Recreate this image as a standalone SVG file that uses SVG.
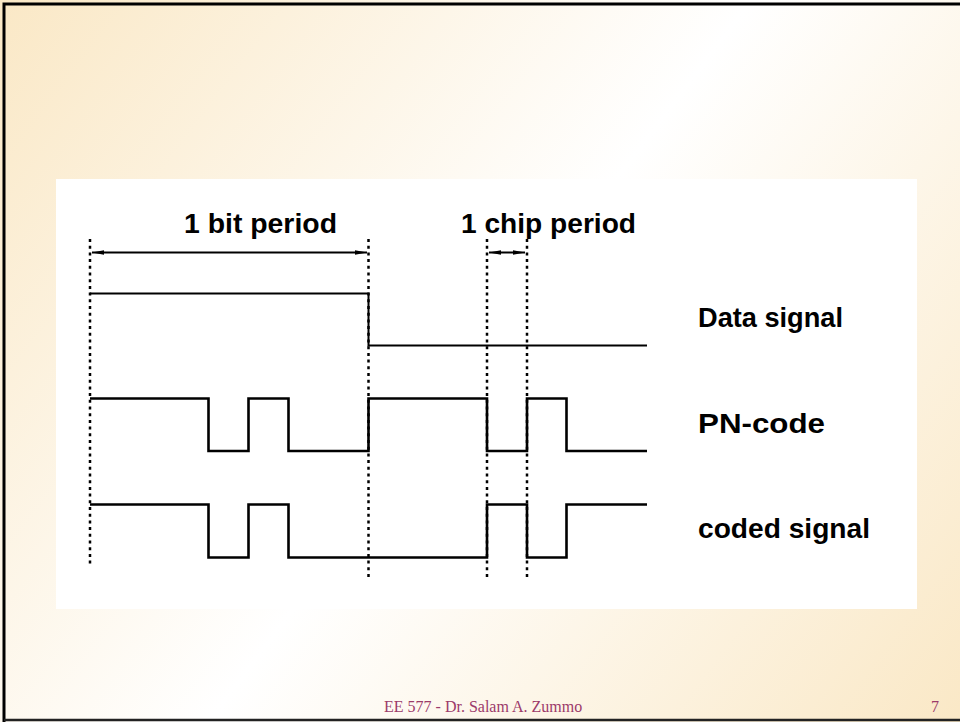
<svg xmlns="http://www.w3.org/2000/svg" width="960" height="722" viewBox="0 0 960 722">
  <defs>
    <linearGradient id="bg" x1="0" y1="0" x2="960" y2="722" gradientUnits="userSpaceOnUse">
      <stop offset="0" stop-color="#FAE8C6"/>
      <stop offset="0.5" stop-color="#FFFFFF"/>
      <stop offset="1" stop-color="#FAE8C6"/>
    </linearGradient>
    <marker id="head" viewBox="0 0 12 6" markerWidth="12" markerHeight="6" refX="12" refY="3" orient="auto-start-reverse" markerUnits="userSpaceOnUse">
      <path d="M0,0.8 L12,3 L0,5.2 Z" fill="#000"/>
    </marker>
    <style>
      .wave { fill: none; stroke: #000; stroke-width: 2.6; stroke-linejoin: miter; }
      .thin { stroke-width: 2; }
      .dots { fill: none; stroke: #000; stroke-width: 2.5; stroke-dasharray: 3 3.7; }
      .dim { fill: none; stroke: #000; stroke-width: 2; }
      .lbl { font-family: "Liberation Sans", Arial, Helvetica, sans-serif; font-weight: bold; font-size: 28px; fill: #000; }
      .foot { font-family: "Liberation Serif", "Times New Roman", serif; font-size: 16px; fill: #9C3A6A; }
    </style>
  </defs>

  <!-- slide background and frame -->
  <rect x="0" y="0" width="960" height="722" fill="url(#bg)"/>
  <path d="M4,722 L4,4 L960,4" fill="none" stroke="#000" stroke-width="3"/>
  <line x1="4" y1="720" x2="960" y2="720" stroke="#222" stroke-width="2.5"/>

  <!-- white figure panel -->
  <rect x="56" y="179" width="861" height="430" fill="#FFFFFF"/>

  <!-- timing guides -->
  <g id="guides">
    <line class="dots" x1="90" y1="239" x2="90" y2="564"/>
    <line class="dots" x1="368.5" y1="239" x2="368.5" y2="579"/>
    <line class="dots" x1="487" y1="239" x2="487" y2="579"/>
    <line class="dots" x1="527" y1="239" x2="527" y2="579"/>
  </g>

  <!-- period dimension arrows -->
  <g id="connectors">
    <line class="dim" x1="92" y1="252.5" x2="367" y2="252.5" marker-start="url(#head)" marker-end="url(#head)"/>
    <line class="dim" x1="489" y1="252.5" x2="525" y2="252.5" marker-start="url(#head)" marker-end="url(#head)"/>
  </g>

  <g id="bit-period">
    <text class="lbl" x="184" y="233" textLength="153" lengthAdjust="spacingAndGlyphs">1 bit period</text>
  </g>
  <g id="chip-period">
    <text class="lbl" x="461" y="233" textLength="175" lengthAdjust="spacingAndGlyphs">1 chip period</text>
  </g>

  <!-- waveforms -->
  <g id="data-signal">
    <path class="wave thin" d="M90,293.5 H368.5 V345.5 H647"/>
    <text class="lbl" x="698" y="327" textLength="145" lengthAdjust="spacingAndGlyphs">Data signal</text>
  </g>
  <g id="pn-code">
    <path class="wave" d="M90,398.5 H208.5 V451 H248.5 V398.5 H288.5 V451 H368.5 V398.5 H487 V451 H527 V398.5 H566.5 V451 H647"/>
    <text class="lbl" x="698" y="433" textLength="127" lengthAdjust="spacingAndGlyphs">PN-code</text>
  </g>
  <g id="coded-signal">
    <path class="wave" d="M90,504.5 H208.5 V557.5 H248.5 V504.5 H288.5 V557.5 H487 V504.5 H527 V557.5 H566.5 V504.5 H647"/>
    <text class="lbl" x="698" y="538" textLength="172" lengthAdjust="spacingAndGlyphs">coded signal</text>
  </g>

  <!-- footer -->
  <text class="foot" x="384" y="712">EE 577 - Dr. Salam A. Zummo</text>
  <text class="foot" x="931" y="712">7</text>
</svg>
